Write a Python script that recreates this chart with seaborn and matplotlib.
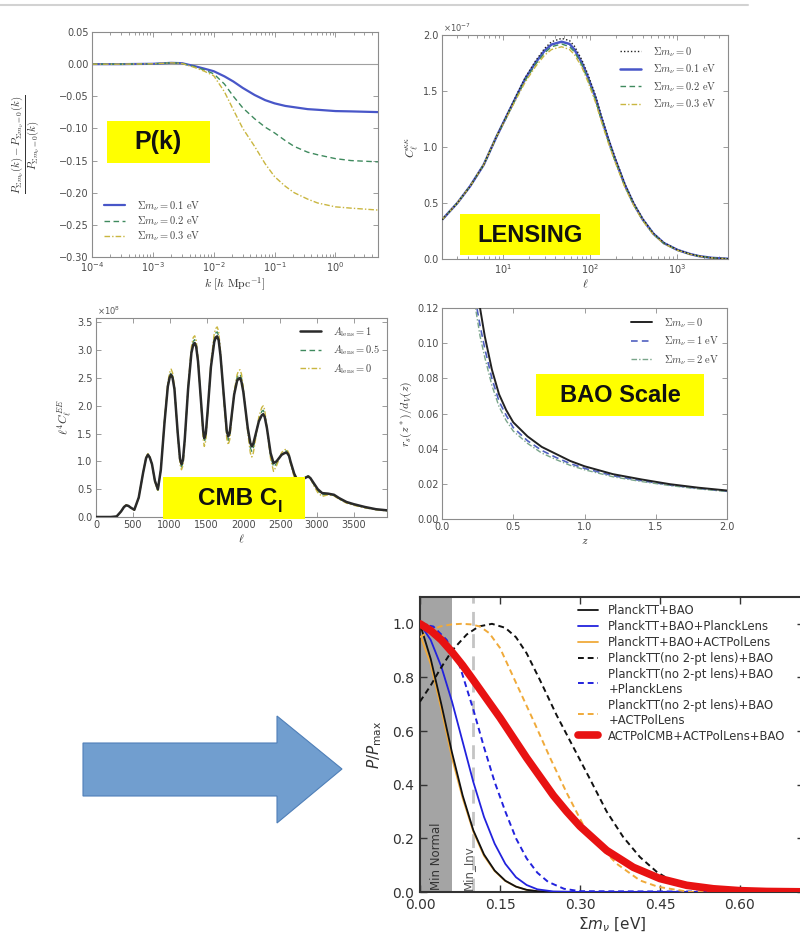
import numpy as np
import pandas as pd
import matplotlib
matplotlib.use("Agg")
import matplotlib.pyplot as plt
import seaborn as sns
from matplotlib.patches import Rectangle, Polygon
from matplotlib.lines import Line2D
from matplotlib.font_manager import FontProperties
from matplotlib.ticker import FormatStrFormatter, FixedLocator

sns.set_style("white")
plt.rcParams['font.family'] = ['DejaVu Sans']

# ---------------- DATA ----------------
# Panel 1: relative matter power spectrum suppression
pk_k = [1e-4, 3e-4, 1e-3, 2e-3, 3e-3, 4.8e-3, 7e-3, 1e-2, 1.5e-2, 2.1e-2, 3e-2, 4.7e-2,
        7e-2, 0.1, 0.15, 0.21, 0.35, 0.51, 1.0, 1.8, 5.0]
pk_m01 = [0, 0, 0.0005, 0.002, 0.0015, -0.003, -0.007, -0.011, -0.019, -0.027, -0.037, -0.048,
          -0.056, -0.061, -0.065, -0.067, -0.070, -0.071, -0.073, -0.0735, -0.0746]
pk_m02 = [0, 0, 0.0005, 0.002, 0.0012, -0.004, -0.009, -0.015, -0.031, -0.050, -0.068, -0.085,
          -0.098, -0.107, -0.119, -0.128, -0.137, -0.141, -0.147, -0.150, -0.152]
pk_m03 = [0, 0, 0.0005, 0.002, 0.001, -0.005, -0.011, -0.018, -0.043, -0.071, -0.100, -0.128,
          -0.155, -0.175, -0.190, -0.200, -0.210, -0.216, -0.222, -0.224, -0.227]
pk_labels = [r"$\Sigma m_\nu = 0.1\ \mathrm{eV}$", r"$\Sigma m_\nu = 0.2\ \mathrm{eV}$",
             r"$\Sigma m_\nu = 0.3\ \mathrm{eV}$"]

# Panel 2: lensing convergence spectrum (units of 1e-7)
lens_ell = [2, 3, 4.2, 6, 8.4, 11, 14, 18, 23.7, 30, 36, 47, 58, 66, 80, 94, 115, 133, 160,
            188, 250, 316, 400, 530, 700, 1000, 1400, 1780, 2500, 3800]
lens_m0 = [0.35, 0.50, 0.65, 0.84, 1.09, 1.28, 1.45, 1.62, 1.77, 1.88, 1.94, 1.97, 1.95, 1.90,
           1.78, 1.65, 1.46, 1.29, 1.09, 0.93, 0.67, 0.50, 0.36, 0.23, 0.145, 0.083, 0.045,
           0.026, 0.010, 0.002]
lens_m01 = [0.35, 0.50, 0.65, 0.84, 1.09, 1.275, 1.44, 1.61, 1.755, 1.86, 1.915, 1.94, 1.92,
            1.87, 1.755, 1.625, 1.44, 1.27, 1.075, 0.915, 0.66, 0.49, 0.353, 0.226, 0.142,
            0.081, 0.044, 0.025, 0.010, 0.002]
lens_m02 = [0.35, 0.50, 0.65, 0.84, 1.09, 1.27, 1.43, 1.595, 1.74, 1.84, 1.895, 1.92, 1.895,
            1.85, 1.735, 1.605, 1.42, 1.255, 1.06, 0.90, 0.65, 0.485, 0.348, 0.222, 0.139,
            0.079, 0.043, 0.025, 0.0095, 0.002]
lens_m03 = [0.35, 0.50, 0.65, 0.84, 1.09, 1.265, 1.42, 1.58, 1.72, 1.82, 1.87, 1.895, 1.87,
            1.825, 1.715, 1.585, 1.40, 1.24, 1.045, 0.89, 0.64, 0.478, 0.343, 0.219, 0.137,
            0.078, 0.042, 0.024, 0.009, 0.002]
lens_labels = [r"$\Sigma m_\nu = 0$", r"$\Sigma m_\nu = 0.1\ \mathrm{eV}$",
               r"$\Sigma m_\nu = 0.2\ \mathrm{eV}$", r"$\Sigma m_\nu = 0.3\ \mathrm{eV}$"]

# Panel 3: CMB EE spectrum, ell^4 C_ell (units of 1e8)
cmb_ell = [0, 200, 280, 340, 380, 410, 440, 470, 520, 580,
           640, 680, 705, 730, 760, 800, 840, 880, 930, 975,
           1000, 1020, 1040, 1065, 1110, 1140, 1160, 1180, 1205, 1250,
           1295, 1320, 1340, 1360, 1385, 1430, 1455, 1470, 1490, 1515,
           1560, 1605, 1625, 1645, 1665, 1690, 1740, 1775, 1795, 1815,
           1835, 1875, 1915, 1935, 1955, 1975, 2000, 2060, 2095, 2115,
           2135, 2160, 2210, 2250, 2270, 2290, 2320, 2370, 2410, 2450,
           2520, 2560, 2590, 2620, 2640, 2690, 2730, 2800, 2850, 2880,
           2910, 2950, 3010, 3070, 3150, 3230, 3300, 3400, 3500, 3650,
           3800, 3950]
cmb_A1 = [0, 0, 0.01, 0.1, 0.18, 0.21, 0.2, 0.17, 0.13, 0.35,
          0.8, 1.06, 1.12, 1.07, 0.95, 0.65, 0.5, 0.85, 1.7, 2.35,
          2.51, 2.56, 2.5, 2.3, 1.5, 1.05, 0.95, 1.02, 1.4, 2.3,
          2.95, 3.1, 3.13, 3.06, 2.8, 2.0, 1.55, 1.42, 1.5, 1.9,
          2.7, 3.15, 3.23, 3.25, 3.18, 2.9, 2.1, 1.55, 1.45, 1.52,
          1.75, 2.2, 2.45, 2.49, 2.5, 2.43, 2.25, 1.6, 1.33, 1.27,
          1.32, 1.45, 1.72, 1.83, 1.85, 1.8, 1.6, 1.15, 0.97, 1.0,
          1.12, 1.15, 1.16, 1.1, 1.0, 0.78, 0.67, 0.68, 0.71, 0.73,
          0.7, 0.62, 0.5, 0.43, 0.42, 0.40, 0.34, 0.27, 0.23, 0.18,
          0.14, 0.12]
cmb_A05 = [0, 0, 0.01, 0.1, 0.18, 0.21, 0.2, 0.17, 0.13, 0.35,
           0.8, 1.07, 1.13, 1.08, 0.95, 0.64, 0.48, 0.85, 1.72, 2.38,
           2.55, 2.6, 2.54, 2.32, 1.48, 1.0, 0.9, 0.97, 1.38, 2.32,
           3.0, 3.16, 3.19, 3.12, 2.82, 1.98, 1.48, 1.35, 1.44, 1.88,
           2.74, 3.22, 3.31, 3.33, 3.26, 2.94, 2.06, 1.48, 1.38, 1.46,
           1.72, 2.22, 2.51, 2.56, 2.57, 2.5, 2.28, 1.56, 1.24, 1.18,
           1.24, 1.4, 1.75, 1.9, 1.92, 1.86, 1.6, 1.1, 0.9, 0.96,
           1.14, 1.18, 1.19, 1.12, 0.98, 0.75, 0.62, 0.66, 0.72, 0.74,
           0.7, 0.6, 0.47, 0.4, 0.41, 0.39, 0.33, 0.26, 0.22, 0.17,
           0.135, 0.115]
cmb_A0 = [0, 0, 0.01, 0.1, 0.19, 0.22, 0.2, 0.17, 0.12, 0.35,
          0.8, 1.08, 1.14, 1.09, 0.95, 0.63, 0.46, 0.85, 1.74, 2.42,
          2.6, 2.66, 2.59, 2.35, 1.45, 0.95, 0.85, 0.92, 1.35, 2.35,
          3.06, 3.23, 3.26, 3.18, 2.85, 1.95, 1.4, 1.27, 1.37, 1.85,
          2.78, 3.3, 3.39, 3.42, 3.34, 2.98, 2.02, 1.41, 1.3, 1.39,
          1.68, 2.25, 2.56, 2.63, 2.65, 2.57, 2.32, 1.52, 1.15, 1.08,
          1.15, 1.35, 1.8, 1.97, 2.0, 1.93, 1.6, 1.05, 0.82, 0.92,
          1.16, 1.21, 1.22, 1.14, 0.96, 0.72, 0.57, 0.64, 0.72, 0.75,
          0.7, 0.58, 0.44, 0.37, 0.4, 0.38, 0.32, 0.25, 0.21, 0.165,
          0.13, 0.11]
cmb_labels = [r"$A_{\rm lens} = 1$", r"$A_{\rm lens} = 0.5$", r"$A_{\rm lens} = 0$"]

# Panel 4: BAO scale
bao_z = [0.20, 0.22, 0.235, 0.245, 0.267, 0.3, 0.35, 0.4, 0.45, 0.5, 0.6, 0.7, 0.8, 0.9, 1.0,
         1.2, 1.4, 1.6, 1.8, 2.0]
bao_m0 = [0.165, 0.150, 0.140, 0.132, 0.120, 0.104, 0.085, 0.071, 0.062, 0.055, 0.047, 0.041,
          0.037, 0.033, 0.030, 0.0255, 0.0225, 0.0198, 0.0178, 0.0162]
bao_m1 = [0.150, 0.136, 0.126, 0.120, 0.110, 0.097, 0.080, 0.067, 0.059, 0.052, 0.0445, 0.039,
          0.035, 0.0315, 0.0288, 0.0246, 0.0218, 0.0193, 0.0174, 0.0158]
bao_m2 = [0.143, 0.130, 0.120, 0.115, 0.104, 0.092, 0.076, 0.064, 0.056, 0.050, 0.043, 0.0375,
          0.0338, 0.0305, 0.028, 0.024, 0.0213, 0.019, 0.0171, 0.0156]
bao_labels = [r"$\Sigma m_\nu = 0$", r"$\Sigma m_\nu = 1\ \mathrm{eV}$",
              r"$\Sigma m_\nu = 2\ \mathrm{eV}$"]

# Panel 5: posteriors on the neutrino mass sum
post_labels = ["PlanckTT+BAO", "PlanckTT+BAO+PlanckLens", "PlanckTT+BAO+ACTPolLens",
               "PlanckTT(no 2-pt lens)+BAO", "PlanckTT(no 2-pt lens)+BAO\n+PlanckLens",
               "PlanckTT(no 2-pt lens)+BAO\n+ACTPolLens", "ACTPolCMB+ACTPolLens+BAO"]
mnu_a = [0, 0.02, 0.04, 0.06, 0.08, 0.1, 0.12, 0.14, 0.16, 0.18, 0.2, 0.22, 0.25, 0.3, 0.75]
p_ptt_bao = [1.0, 0.87, 0.70, 0.52, 0.36, 0.23, 0.14, 0.08, 0.042, 0.02, 0.008, 0.003, 0.0, 0.0, 0.0]
p_ptt_bao_pl = [1.0, 0.94, 0.84, 0.71, 0.56, 0.41, 0.28, 0.18, 0.105, 0.055, 0.026, 0.01, 0.002, 0.0, 0.0]
p_ptt_bao_al = [0.96, 0.85, 0.68, 0.50, 0.35, 0.225, 0.135, 0.078, 0.041, 0.02, 0.008, 0.003, 0.0, 0.0, 0.0]
mnu_b = [0, 0.02, 0.0375, 0.06, 0.0875, 0.11, 0.135, 0.16, 0.18, 0.2, 0.225, 0.256, 0.2875,
         0.319, 0.35, 0.381, 0.4125, 0.444, 0.475, 0.5, 0.5375, 0.6, 0.75]
p_nolens_bao = [0.71, 0.77, 0.83, 0.90, 0.96, 0.99, 1.0, 0.985, 0.95, 0.89, 0.79, 0.66, 0.54,
                0.42, 0.30, 0.205, 0.13, 0.075, 0.037, 0.02, 0.009, 0.0, 0.0]
mnu_c = [0, 0.025, 0.05, 0.075, 0.1, 0.12, 0.14, 0.16, 0.18, 0.2, 0.22, 0.24, 0.27, 0.3, 0.75]
p_nolens_pl = [1.0, 0.99, 0.94, 0.84, 0.68, 0.54, 0.41, 0.30, 0.20, 0.125, 0.072, 0.038, 0.012,
               0.003, 0.0]
mnu_d = [0, 0.02, 0.0375, 0.06, 0.078, 0.095, 0.1125, 0.13, 0.15, 0.18, 0.2125, 0.244, 0.275,
         0.306, 0.3375, 0.369, 0.4125, 0.447, 0.506, 0.6, 0.75]
p_nolens_al = [0.95, 0.975, 0.99, 0.998, 1.0, 0.998, 0.99, 0.965, 0.91, 0.78, 0.64, 0.50, 0.37,
               0.25, 0.17, 0.105, 0.043, 0.019, 0.0, 0.0, 0.0]
mnu_e = [0, 0.02, 0.04, 0.06, 0.08, 0.1, 0.125, 0.15, 0.175, 0.2, 0.225, 0.25, 0.275, 0.3,
         0.35, 0.4, 0.45, 0.5, 0.55, 0.6, 0.65, 0.75]
p_actpol = [1.0, 0.975, 0.94, 0.895, 0.845, 0.79, 0.72, 0.65, 0.575, 0.50, 0.43, 0.36, 0.30,
            0.245, 0.155, 0.092, 0.05, 0.025, 0.012, 0.005, 0.002, 0.0]
min_normal = 0.06
min_inverted = 0.1

box_texts = ["P(k)", "LENSING", "CMB C", "BAO Scale"]

# ---------------- FIGURE ----------------
W, H = 800, 940
fig = plt.figure(figsize=(8, 9.4), dpi=100)
fig.patch.set_facecolor("white")


def fx(x):
    return x / W


def fy(y):
    return 1 - y / H


def px_axes(x0, y0, x1, y1):
    return fig.add_axes([x0 / W, 1 - y1 / H, (x1 - x0) / W, (y1 - y0) / H])


def lp(ax, x, y, color, lw, ls="-", label=None, zorder=2):
    sns.lineplot(x=x, y=y, ax=ax, color=color, lw=lw, linestyle=ls, label=label,
                 estimator=None, sort=False, zorder=zorder)


def style_top(ax):
    ax.set_facecolor("white")
    for s in ax.spines.values():
        s.set_color("#8c8c8c")
        s.set_linewidth(0.8)
    ax.tick_params(which="both", direction="in", top=True, right=True, bottom=True, left=True,
                   colors="#8c8c8c", labelcolor="#4a4a4a", labelsize=7, length=3.5, width=0.6,
                   pad=2.5)
    ax.tick_params(which="minor", length=2)


def top_legend(ax, x_px, y_px, spacing, size=7.5):
    leg = ax.legend(loc="upper left", bbox_to_anchor=(fx(x_px), fy(y_px)),
                    bbox_transform=fig.transFigure, frameon=False,
                    prop=FontProperties(size=size, math_fontfamily="cm"), handlelength=2.0,
                    handletextpad=1.2, labelspacing=spacing, borderpad=0, borderaxespad=0)
    for t in leg.get_texts():
        t.set_color("#444444")
    return leg


BLUE = "#4856c8"
GREEN = "#3f8a5e"
YELL = "#c9b640"
LAB = dict(fontsize=8.5, math_fontfamily="cm", color="#333333")

# separator line at top
fig.add_artist(Line2D([0, fx(748)], [fy(5), fy(5)], color="#d2d2d2", lw=1.5))

# ---- Panel 1: P(k)
ax1 = px_axes(92, 32, 378, 257)
ax1.axhline(0, color="#a0a0a0", lw=0.8, zorder=1)
lp(ax1, pk_k, pk_m01, BLUE, 1.6, "-", pk_labels[0])
lp(ax1, pk_k, pk_m02, GREEN, 1.0, (0, (4, 2.5)), pk_labels[1])
lp(ax1, pk_k, pk_m03, YELL, 1.0, (0, (4, 1.5, 1, 1.5)), pk_labels[2])
ax1.set_xscale("log")
ax1.set_xlim(1e-4, 5)
ax1.set_ylim(-0.30, 0.05)
ax1.yaxis.set_major_locator(FixedLocator([-0.30, -0.25, -0.20, -0.15, -0.10, -0.05, 0.0, 0.05]))
ax1.set_yticklabels([l.replace("-", "\u2212") for l in
                     ["-0.30", "-0.25", "-0.20", "-0.15", "-0.10", "-0.05", "0.00", "0.05"]])
style_top(ax1)
ax1.set_xlabel(r"$k\ [h\ \mathrm{Mpc}^{-1}]$", labelpad=1, **LAB)
ax1.set_ylabel(r"$\frac{P_{\Sigma m_\nu}(k)-P_{\Sigma m_\nu=0}(k)}{P_{\Sigma m_\nu=0}(k)}$",
               fontsize=11, math_fontfamily="cm", color="#333333")
ax1.yaxis.set_label_coords(-0.175, 0.5)
top_legend(ax1, 104, 199, 0.15)

# ---- Panel 2: Lensing
ax2 = px_axes(442, 35, 728, 259)
lp(ax2, lens_ell, lens_m0, "#222222", 1.0, (0, (1, 1.5)), lens_labels[0], zorder=3)
lp(ax2, lens_ell, lens_m01, BLUE, 1.8, "-", lens_labels[1])
lp(ax2, lens_ell, lens_m02, GREEN, 1.0, (0, (4, 2.5)), lens_labels[2])
lp(ax2, lens_ell, lens_m03, YELL, 1.0, (0, (4, 1.5, 1, 1.5)), lens_labels[3])
ax2.set_xscale("log")
ax2.set_xlim(2, 3800)
ax2.set_ylim(0, 2.0)
ax2.set_yticks([0, 0.5, 1.0, 1.5, 2.0])
ax2.yaxis.set_major_formatter(FormatStrFormatter("%.1f"))
style_top(ax2)
ax2.set_xlabel(r"$\ell$", labelpad=1, **LAB)
ax2.set_ylabel(r"$C_\ell^{\kappa\kappa}$", labelpad=2, **LAB)
ax2.text(0.005, 1.004, r"$\times10^{-7}$", transform=ax2.transAxes, fontsize=6,
         color="#555555", va="bottom", ha="left")
top_legend(ax2, 620, 45, 0.35)

# ---- Panel 3: CMB
ax3 = px_axes(96, 318, 387, 517)
lp(ax3, cmb_ell, cmb_A1, "#2a2a2a", 1.8, "-", cmb_labels[0], zorder=3)
lp(ax3, cmb_ell, cmb_A05, GREEN, 1.0, (0, (4, 2.5)), cmb_labels[1])
lp(ax3, cmb_ell, cmb_A0, YELL, 1.0, (0, (4, 1.5, 1, 1.5)), cmb_labels[2])
ax3.set_xlim(0, 3950)
ax3.set_ylim(0, 3.58)
ax3.set_xticks(np.arange(0, 3501, 500))
ax3.set_yticks(np.arange(0, 3.51, 0.5))
ax3.yaxis.set_major_formatter(FormatStrFormatter("%.1f"))
style_top(ax3)
ax3.set_xlabel(r"$\ell$", labelpad=1, **LAB)
ax3.set_ylabel(r"$\ell^4 C_\ell^{EE}$", labelpad=2, **LAB)
ax3.text(0.005, 1.004, r"$\times10^{8}$", transform=ax3.transAxes, fontsize=6,
         color="#555555", va="bottom", ha="left")
top_legend(ax3, 300, 325, 0.45)

# ---- Panel 4: BAO
ax4 = px_axes(442, 308, 727, 519)
lp(ax4, bao_z, bao_m0, "#222222", 1.4, "-", bao_labels[0], zorder=3)
lp(ax4, bao_z, bao_m1, "#5060c0", 1.2, (0, (4, 2.5)), bao_labels[1])
lp(ax4, bao_z, bao_m2, "#7aa58a", 1.0, (0, (4, 1.5, 1, 1.5)), bao_labels[2])
ax4.set_xlim(0, 2.0)
ax4.set_ylim(0, 0.12)
ax4.set_xticks(np.arange(0, 2.01, 0.5))
ax4.set_yticks(np.arange(0, 0.121, 0.02))
ax4.xaxis.set_major_formatter(FormatStrFormatter("%.1f"))
ax4.yaxis.set_major_formatter(FormatStrFormatter("%.2f"))
style_top(ax4)
ax4.set_xlabel(r"$z$", labelpad=1, **LAB)
ax4.set_ylabel(r"$r_s(z^*)/d_V(z)$", labelpad=2, **LAB)
top_legend(ax4, 631, 316, 0.45)

# ---- Panel 5: posteriors
ax5 = px_axes(420, 597, 804, 892)
ax5.set_facecolor("white")
ax5.axvspan(0, min_normal, color="#a4a4a4", lw=0, zorder=0)
ax5.axvline(min_inverted, color="#c4c4c4", lw=2, ls=(0, (5, 3)), zorder=1)
DASH = (0, (3, 2))
lp(ax5, mnu_a, p_ptt_bao, "#111111", 1.3, "-", post_labels[0], zorder=3)
lp(ax5, mnu_a, p_ptt_bao_pl, "#2222dd", 1.3, "-", post_labels[1], zorder=3)
lp(ax5, mnu_a, p_ptt_bao_al, "#f0aa3a", 1.3, "-", post_labels[2], zorder=2)
lp(ax5, mnu_b, p_nolens_bao, "#111111", 1.4, DASH, post_labels[3], zorder=3)
lp(ax5, mnu_c, p_nolens_pl, "#2222dd", 1.4, DASH, post_labels[4], zorder=3)
lp(ax5, mnu_d, p_nolens_al, "#f0aa3a", 1.4, DASH, post_labels[5], zorder=3)
lp(ax5, mnu_e, p_actpol, "#e81212", 5.5, "-", post_labels[6], zorder=4)
ax5.set_xlim(0, 0.72)
ax5.set_ylim(0, 1.1)
ax5.set_xticks([0, 0.15, 0.30, 0.45, 0.60])
ax5.set_yticks([0, 0.2, 0.4, 0.6, 0.8, 1.0])
ax5.xaxis.set_major_formatter(FormatStrFormatter("%.2f"))
ax5.yaxis.set_major_formatter(FormatStrFormatter("%.1f"))
for s in ax5.spines.values():
    s.set_color("#333333")
    s.set_linewidth(1.5)
ax5.tick_params(which="both", direction="in", top=True, right=True, bottom=True, left=True,
                colors="#333333", labelcolor="#333333", labelsize=10, length=5, width=1,
                pad=4)
ax5.set_xlabel(r"$\Sigma m_\nu$ [eV]", fontsize=11, color="#333333", labelpad=3)
ax5.set_ylabel(r"$P/P_{\rm max}$", fontsize=11, color="#333333", labelpad=6)
ax5.text(0.03, 0.008, "Min Normal", rotation=90, ha="center", va="bottom", fontsize=8.5,
         color="#333333", zorder=5)
ax5.text(0.09, 0.008, "Min_Inv", rotation=90, ha="center", va="bottom", fontsize=8.5,
         color="#555555", zorder=5)
h, l = ax5.get_legend_handles_labels()
leg5 = ax5.legend(h, l, loc="upper left", bbox_to_anchor=(fx(578), fy(604)),
                  bbox_transform=fig.transFigure, frameon=False,
                  prop=FontProperties(family="DejaVu Sans", size=8.4), handlelength=1.7,
                  handletextpad=0.9, labelspacing=0.25, borderpad=0, borderaxespad=0)
for t in leg5.get_texts():
    t.set_color("#333333")

# ---- Yellow label boxes
def ybox(x0, y0, x1, y1):
    fig.add_artist(Rectangle((fx(x0), fy(y1)), (x1 - x0) / W, (y1 - y0) / H,
                             transform=fig.transFigure, facecolor="#ffff00", edgecolor="none",
                             zorder=10))

BOXFONT = dict(family="Liberation Sans", weight="bold", color="#111111", zorder=11)
ybox(107, 121, 210, 163)
fig.text(fx(158.5), fy(142), box_texts[0], ha="center", va="center", fontsize=18, **BOXFONT)
ybox(460, 214, 600, 255)
fig.text(fx(530), fy(235), box_texts[1], ha="center", va="center", fontsize=17, **BOXFONT)
ybox(163, 477, 305, 519)
fig.text(fx(277), fy(505), box_texts[2], ha="right", va="baseline", fontsize=17.5, **BOXFONT)
fig.text(fx(278), fy(512), "l", ha="left", va="baseline", fontsize=12, **BOXFONT)
ybox(536, 374, 704, 416)
fig.text(fx(620), fy(395), box_texts[3], ha="center", va="center", fontsize=17, **BOXFONT)

# ---- Blue arrow
arrow_px = [(83, 743), (277, 743), (277, 716), (342, 769), (277, 823), (277, 796), (83, 796)]
fig.add_artist(Polygon([(fx(x), fy(y)) for x, y in arrow_px], closed=True,
                       transform=fig.transFigure, facecolor="#719ecf", edgecolor="#4f7fb8",
                       lw=0.8, zorder=10))

fig.savefig("out.png", dpi=100)
